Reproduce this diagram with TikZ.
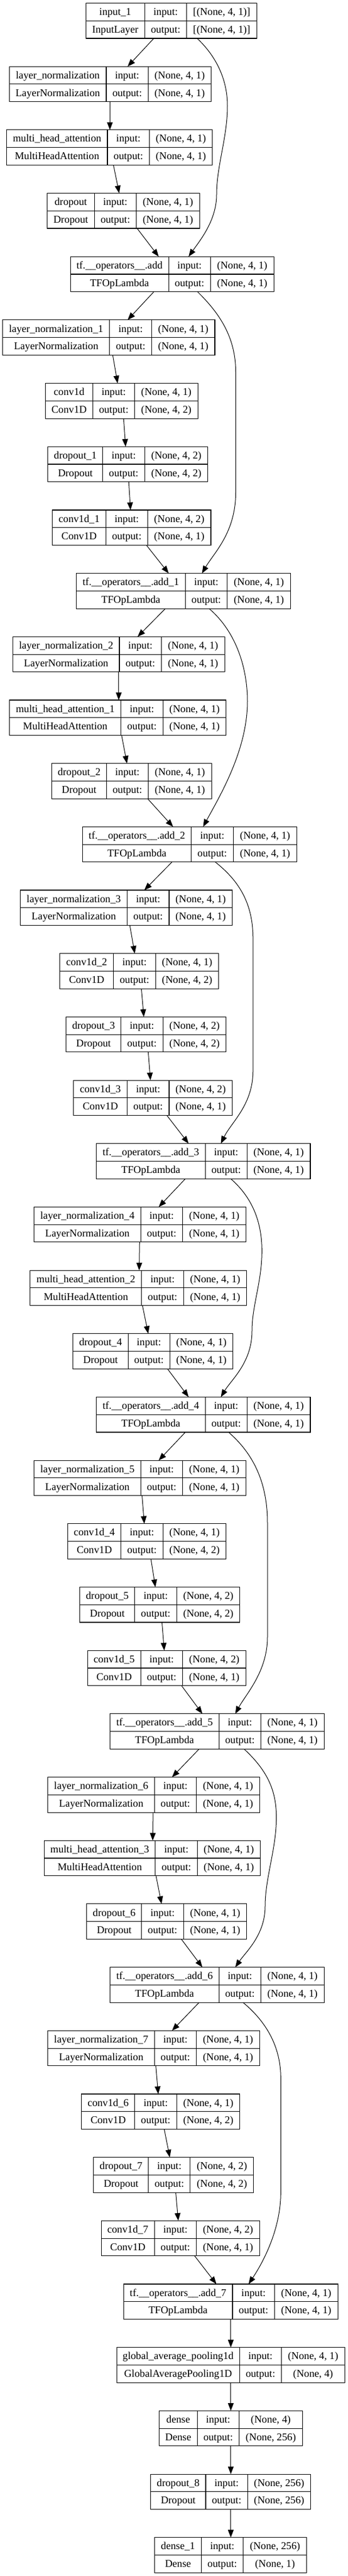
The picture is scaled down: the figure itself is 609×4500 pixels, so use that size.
\documentclass[tikz,border=0pt]{standalone}
\usepackage{fontspec}
\setmainfont{Liberation Serif}
\usetikzlibrary{arrows.meta}
\tikzset{
  box/.style={draw, rectangle, line width=1.1pt, inner sep=0pt, outer sep=0pt},
  cell/.style={line width=1.1pt},
  txt/.style={inner sep=0pt, font=\fontsize{18.2}{22}\selectfont},
  arr/.style={line width=1pt, -{Triangle[length=13.3pt,width=10pt]}}
}
\newcommand\twovals[2]{\def\vin{#1}\def\vout{#2}}
\newcommand\Vone{(None, 4, 1)}
\newcommand\Vtwo{(None, 4, 2)}
\newcommand\layer[9]{%
  \twovals#9%
  \pgfmathsetmacro\lyTop{5.5+110.68*#2}%
  \pgfmathsetmacro\lyBot{\lyTop+61.5}%
  \pgfmathsetmacro\lyMid{\lyTop+30.75}%
  \pgfmathsetmacro\lyWid{#6-#3}%
  \pgfmathsetmacro\lyRa{\lyTop+21.1}%
  \pgfmathsetmacro\lyRb{\lyTop+51.9}%
  \node[box, minimum width=\lyWid pt, minimum height=61.5pt, anchor=north west] (#1) at (#3,\lyTop) {};
  \draw[cell] (#3,\lyMid) -- (#6,\lyMid) (#4,\lyTop) -- (#4,\lyBot) (#5,\lyTop) -- (#5,\lyBot);
  \node[txt, anchor=base] (#1n) at ({(#3+#4)/2},\lyRa) {#7};
  \node[txt, anchor=base] (#1c) at ({(#3+#4)/2},\lyRb) {#8};
  \node[txt, anchor=base] (#1i) at ({(#4+#5)/2},\lyRa) {input:};
  \node[txt, anchor=base] (#1o) at ({(#4+#5)/2},\lyRb) {output:};
  \node[txt, anchor=base] (#1vi) at ({(#5+#6)/2},\lyRa) {\vin};
  \node[txt, anchor=base] (#1vo) at ({(#5+#6)/2},\lyRb) {\vout};
}
\newcommand\edge[4]{\draw[arr] (#1.south -| #2,0) -- (#3.north -| #4,0);}
\begin{document}
\begin{tikzpicture}[x=1pt, y=-1pt]
\fill[white] (0,0) rectangle (609,4500);
\useasboundingbox (0,0) rectangle (609,4500);
% layers
\layer{in0}{0}{150.3}{253.2}{326.6}{449.4}{input\_1}{InputLayer}{{[(None, 4, 1)]}{[(None, 4, 1)]}}
\layer{ln0}{1}{16.3}{186.0}{259.1}{369.7}{layer\_normalization}{LayerNormalization}{{\Vone}{\Vone}}
\layer{mha0}{2}{11.7}{188.0}{261.4}{371.7}{multi\_head\_attention}{MultiHeadAttention}{{\Vone}{\Vone}}
\layer{do0}{3}{82.7}{165.1}{238.5}{349.2}{dropout}{Dropout}{{\Vone}{\Vone}}
\layer{add0}{4}{123.1}{295.2}{368.2}{479.3}{tf.\_\_operators\_\_.add}{TFOpLambda}{{\Vone}{\Vone}}
\layer{ln1}{5}{4.7}{191.9}{265.3}{376.0}{layer\_normalization\_1}{LayerNormalization}{{\Vone}{\Vone}}
\layer{cv0}{6}{79.6}{162.3}{235.8}{346.1}{conv1d}{Conv1D}{{\Vone}{\Vtwo}}
\layer{do1}{7}{83.9}{179.8}{253.2}{363.9}{dropout\_1}{Dropout}{{\Vtwo}{\Vtwo}}
\layer{cv1}{8}{91.7}{185.3}{258.3}{369.0}{conv1d\_1}{Conv1D}{{\Vtwo}{\Vone}}
\layer{add1}{9}{133.6}{324.3}{397.7}{508.4}{tf.\_\_operators\_\_.add\_1}{TFOpLambda}{{\Vone}{\Vone}}
\layer{ln2}{10}{22.5}{209.0}{282.4}{393.1}{layer\_normalization\_2}{LayerNormalization}{{\Vone}{\Vone}}
\layer{mha1}{11}{16.7}{211.7}{285.1}{395.8}{multi\_head\_attention\_1}{MultiHeadAttention}{{\Vone}{\Vone}}
\layer{do2}{12}{90.5}{186.4}{259.4}{370.1}{dropout\_2}{Dropout}{{\Vone}{\Vone}}
\layer{add2}{13}{144.5}{334.8}{408.2}{519.3}{tf.\_\_operators\_\_.add\_2}{TFOpLambda}{{\Vone}{\Vone}}
\layer{ln3}{14}{35.7}{222.5}{296.0}{406.3}{layer\_normalization\_3}{LayerNormalization}{{\Vone}{\Vone}}
\layer{cv2}{15}{104.9}{198.5}{272.3}{382.6}{conv1d\_2}{Conv1D}{{\Vone}{\Vtwo}}
\layer{do3}{16}{115.7}{211.7}{285.1}{395.8}{dropout\_3}{Dropout}{{\Vtwo}{\Vtwo}}
\layer{cv3}{17}{128.9}{222.5}{296.0}{406.3}{conv1d\_3}{Conv1D}{{\Vtwo}{\Vone}}
\layer{add3}{18}{168.6}{359.3}{432.3}{543.0}{tf.\_\_operators\_\_.add\_3}{TFOpLambda}{{\Vone}{\Vone}}
\layer{ln4}{19}{59.8}{246.2}{319.6}{430.3}{layer\_normalization\_4}{LayerNormalization}{{\Vone}{\Vone}}
\layer{mha2}{20}{52.8}{247.8}{321.2}{431.9}{multi\_head\_attention\_2}{MultiHeadAttention}{{\Vone}{\Vone}}
\layer{do4}{21}{127.8}{224.1}{297.1}{407.8}{dropout\_4}{Dropout}{{\Vone}{\Vone}}
\layer{add4}{22}{168.6}{359.3}{432.3}{543.0}{tf.\_\_operators\_\_.add\_4}{TFOpLambda}{{\Vone}{\Vone}}
\layer{ln5}{23}{59.8}{246.2}{319.6}{430.3}{layer\_normalization\_5}{LayerNormalization}{{\Vone}{\Vone}}
\layer{cv4}{24}{118.5}{211.7}{285.1}{395.8}{conv1d\_4}{Conv1D}{{\Vone}{\Vtwo}}
\layer{do5}{25}{139.8}{235.8}{309.2}{419.9}{dropout\_5}{Dropout}{{\Vtwo}{\Vtwo}}
\layer{cv5}{26}{153.4}{246.2}{319.6}{430.3}{conv1d\_5}{Conv1D}{{\Vtwo}{\Vone}}
\layer{add5}{27}{192.6}{383.3}{456.4}{567.1}{tf.\_\_operators\_\_.add\_5}{TFOpLambda}{{\Vone}{\Vone}}
\layer{ln6}{28}{83.9}{270.3}{343.7}{454.4}{layer\_normalization\_6}{LayerNormalization}{{\Vone}{\Vone}}
\layer{mha3}{29}{77.3}{271.9}{345.3}{455.6}{multi\_head\_attention\_3}{MultiHeadAttention}{{\Vone}{\Vone}}
\layer{do6}{30}{151.9}{247.8}{321.2}{431.9}{dropout\_6}{Dropout}{{\Vone}{\Vone}}
\layer{add6}{31}{192.6}{383.3}{456.4}{567.1}{tf.\_\_operators\_\_.add\_6}{TFOpLambda}{{\Vone}{\Vone}}
\layer{ln7}{32}{83.9}{270.3}{343.7}{454.4}{layer\_normalization\_7}{LayerNormalization}{{\Vone}{\Vone}}
\layer{cv6}{33}{142.9}{235.8}{309.2}{419.9}{conv1d\_6}{Conv1D}{{\Vone}{\Vtwo}}
\layer{do7}{34}{163.9}{259.8}{332.9}{443.9}{dropout\_7}{Dropout}{{\Vtwo}{\Vtwo}}
\layer{cv7}{35}{177.1}{270.3}{343.7}{454.4}{conv1d\_7}{Conv1D}{{\Vtwo}{\Vone}}
\layer{add7}{36}{216.3}{407.0}{480.4}{591.1}{tf.\_\_operators\_\_.add\_7}{TFOpLambda}{{\Vone}{\Vone}}
\layer{gap}{37}{204.3}{419.1}{492.5}{603.2}{global\_average\_pooling1d}{GlobalAveragePooling1D}{{\Vone}{(None, 4)}}
\layer{dense}{38}{278.5}{345.3}{418.3}{529.4}{dense}{Dense}{{(None, 4)}{(None, 256)}}
\layer{do8}{39}{263.7}{360.0}{433.1}{543.8}{dropout\_8}{Dropout}{{(None, 256)}{(None, 256)}}
\layer{dense1}{40}{270.7}{352.3}{425.7}{536.8}{dense\_1}{Dense}{{(None, 256)}{(None, 1)}}
% straight connectors
\edge{in0}{269.2}{ln0}{223.3}
\edge{ln0}{192.3}{mha0}{192.3}
\edge{mha0}{198.5}{do0}{208.6}
\edge{do0}{240.0}{add0}{277.7}
\edge{add0}{269.2}{ln1}{223.3}
\edge{ln1}{197.3}{cv0}{205.8}
\edge{cv0}{216.3}{do1}{219.8}
\edge{do1}{225.3}{cv1}{228.4}
\edge{cv1}{256.3}{add1}{295.2}
\edge{add1}{289.4}{ln2}{240.8}
\edge{ln2}{207.8}{mha1}{207.8}
\edge{mha1}{212.8}{do2}{222.2}
\edge{do2}{258.3}{add2}{302.9}
\edge{add2}{301.0}{ln3}{252.5}
\edge{ln3}{227.2}{cv2}{235.8}
\edge{cv2}{247.4}{do3}{251.7}
\edge{do3}{259.4}{cv3}{263.3}
\edge{cv3}{292.1}{add3}{330.1}
\edge{add3}{324.3}{ln4}{277.7}
\edge{ln4}{244.3}{mha2}{243.5}
\edge{mha2}{249.3}{do4}{259.4}
\edge{do4}{293.2}{add4}{330.1}
\edge{add4}{324.3}{ln5}{277.7}
\edge{ln5}{248.6}{cv4}{252.5}
\edge{cv4}{264.1}{do5}{271.9}
\edge{do5}{283.5}{cv5}{287.4}
\edge{cv5}{317.7}{add5}{354.2}
\edge{add5}{348.4}{ln6}{301.0}
\edge{ln6}{268.0}{mha3}{267.2}
\edge{mha3}{273.0}{do6}{282.7}
\edge{do6}{317.3}{add6}{354.2}
\edge{add6}{348.4}{ln7}{301.0}
\edge{ln7}{272.7}{cv6}{276.9}
\edge{cv6}{287.4}{do7}{297.1}
\edge{do7}{307.6}{cv7}{311.9}
\edge{cv7}{340.6}{add7}{378.7}
\edge{add7}{403.9}{gap}{403.9}
\edge{gap}{403.9}{dense}{403.9}
\edge{dense}{403.9}{do8}{403.9}
\edge{do8}{403.9}{dense1}{403.9}
% residual connectors
\draw[arr] (in0.south -| 344.9,0) .. controls (375,95) and (398,135) .. (398,185)
  .. controls (398,240) and (379,290) .. (379,340)
  .. controls (379,385) and (350,420) .. (add0.north -| 330.1,0);
\draw[arr] (add0.south -| 345.7,0) .. controls (385,548) and (412.5,590) .. (412.5,650)
  -- (412.5,860) .. controls (412.5,930) and (375,965) .. (add1.north -| 353.4,0);
\draw[arr] (add1.south -| 365.9,0) .. controls (415,1105) and (433,1170) .. (433,1225)
  .. controls (433,1310) and (385,1390) .. (add2.north -| 355.4,0);
\draw[arr] (add2.south -| 376.7,0) .. controls (420,1540) and (442.8,1580) .. (442.8,1640)
  -- (442.8,1870) .. controls (442.8,1930) and (405,1960) .. (add3.north -| 386.5,0);
\draw[arr] (add3.south -| 403.9,0) .. controls (445,2095) and (458.3,2140) .. (458.3,2185)
  .. controls (458.3,2240) and (441,2280) .. (441,2325)
  .. controls (441,2380) and (405,2410) .. (add4.north -| 386.5,0);
\draw[arr] (add4.south -| 400.0,0) .. controls (450,2545) and (468,2600) .. (468,2660)
  -- (468,2860) .. controls (468,2920) and (430,2960) .. (add5.north -| 411.7,0);
\draw[arr] (add5.south -| 427.2,0) .. controls (470,3095) and (483.6,3130) .. (483.6,3175)
  .. controls (483.6,3230) and (464,3280) .. (464,3330)
  .. controls (464,3380) and (430,3410) .. (add6.north -| 411.7,0);
\draw[arr] (add6.south -| 425.3,0) .. controls (470,3535) and (491.3,3580) .. (491.3,3630)
  -- (491.3,3830) .. controls (491.3,3900) and (455,3960) .. (add7.north -| 435.0,0);
\end{tikzpicture}
\end{document}
